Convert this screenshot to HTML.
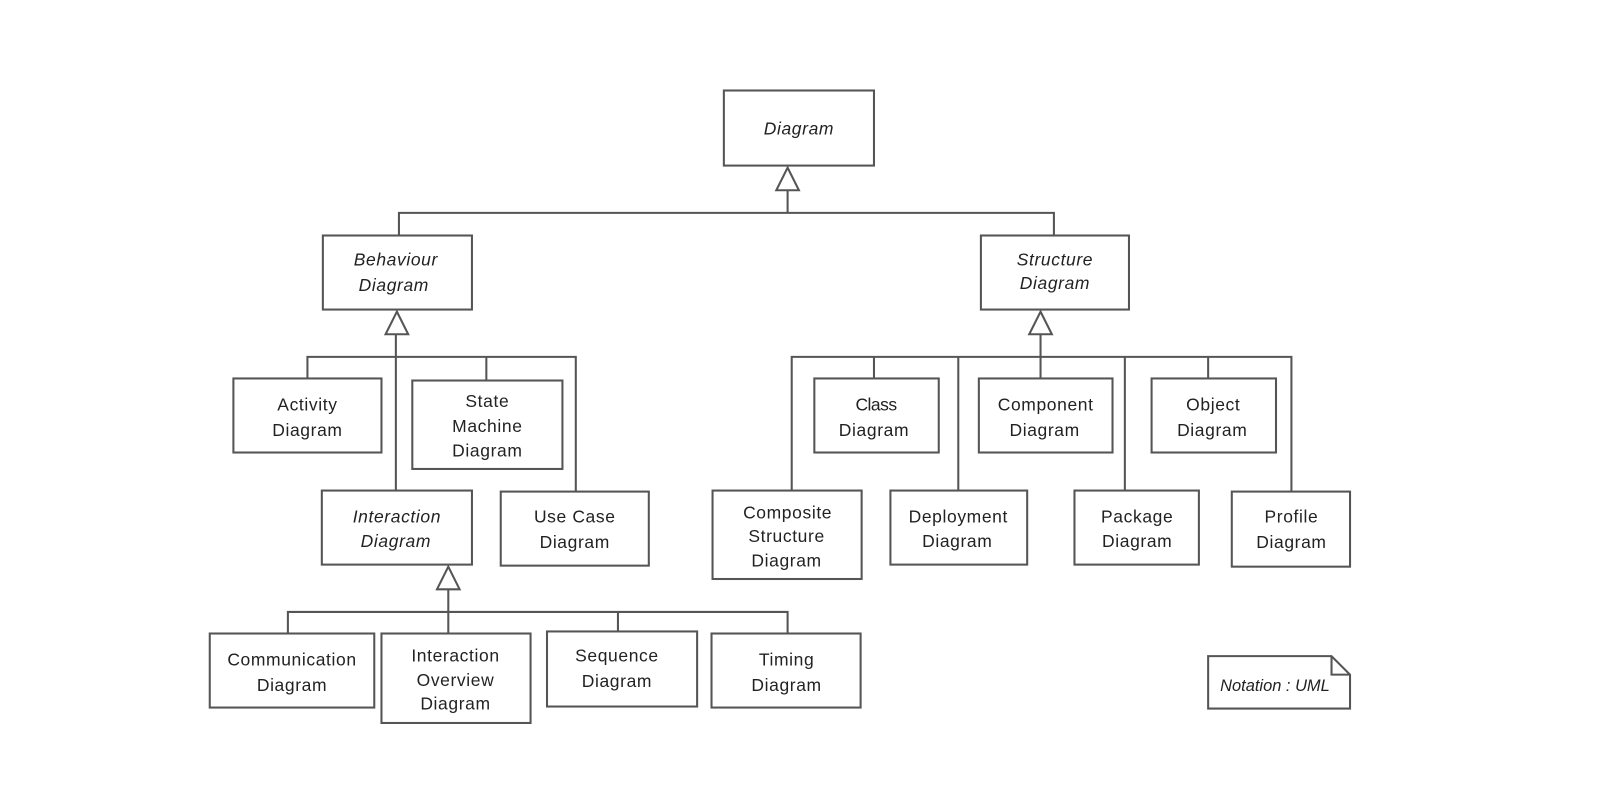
<!DOCTYPE html>
<html><head><meta charset="utf-8"><style>html,body{margin:0;padding:0;background:#fff}svg{display:block}</style></head><body>
<svg width="1604" height="796" viewBox="0 0 1560 774" preserveAspectRatio="none" xmlns="http://www.w3.org/2000/svg">
<g fill="#fff" stroke="#555" stroke-width="2">
<rect x="704" y="88" width="146" height="73"/>
<rect x="314" y="229" width="145" height="72"/>
<rect x="954" y="229" width="144" height="72"/>
<rect x="227" y="368" width="144" height="72"/>
<rect x="401" y="370" width="146" height="86"/>
<rect x="313" y="477" width="146" height="72"/>
<rect x="487" y="478" width="144" height="72"/>
<rect x="204" y="616" width="160" height="72"/>
<rect x="371" y="616" width="145" height="87"/>
<rect x="532" y="614" width="146" height="73"/>
<rect x="692" y="616" width="145" height="72"/>
<rect x="792" y="368" width="121" height="72"/>
<rect x="952" y="368" width="130" height="72"/>
<rect x="1120" y="368" width="121" height="72"/>
<rect x="693" y="477" width="145" height="86"/>
<rect x="866" y="477" width="133" height="72"/>
<rect x="1045" y="477" width="121" height="72"/>
<rect x="1198" y="478" width="115" height="73"/>
<path d="M1175 638 H1295 L1313 656 V689 H1175 Z M1295 638 V656 H1313"/>
</g>
<g fill="none" stroke="#555" stroke-width="2">
<path d="M766 185 V207 M388 229 V207 H1025 V229"/>
<path d="M385 325 V477 M299 368 V347 H560 V478 M473 347 V370"/>
<path d="M436 573 V616 M280 616 V595 H766 V616 M601 595 V614"/>
<path d="M1012 325 V368 M770 477 V347 H1256 V478 M850 347 V368 M932 347 V477 M1094 347 V477 M1175 347 V368"/>
</g>
<g fill="#fff" stroke="#555" stroke-width="2">
<path d="M766 163 L777 185 H755 Z"/>
<path d="M386 303 L397 325 H375 Z"/>
<path d="M436 551 L447 573 H425 Z"/>
<path d="M1012 303 L1023 325 H1001 Z"/>
</g>
<g font-family="Liberation Sans, sans-serif" font-size="17" fill="#222" text-anchor="middle" letter-spacing="0.6">
<g font-style="italic">
<text x="777" y="131">Diagram</text>
<text x="385" y="258">Behaviour</text><text x="383" y="283">Diagram</text>
<text x="1026" y="258">Structure</text><text x="1026" y="281">Diagram</text>
<text x="386" y="508">Interaction</text><text x="385" y="532">Diagram</text>
<text x="1240" y="672" font-size="16" letter-spacing="0">Notation : UML</text>
</g>
<text x="299" y="399">Activity</text><text x="299" y="424">Diagram</text>
<text x="474" y="396">State</text><text x="474" y="420">Machine</text><text x="474" y="444">Diagram</text>
<text x="559" y="508">Use Case</text><text x="559" y="533">Diagram</text>
<text x="284" y="647">Communication</text><text x="284" y="672">Diagram</text>
<text x="443" y="643">Interaction</text><text x="443" y="667">Overview</text><text x="443" y="690">Diagram</text>
<text x="600" y="643">Sequence</text><text x="600" y="668">Diagram</text>
<text x="765" y="647">Timing</text><text x="765" y="672">Diagram</text>
<text x="852" y="399" letter-spacing="-0.5">Class</text><text x="850" y="424">Diagram</text>
<text x="1017" y="399">Component</text><text x="1016" y="424">Diagram</text>
<text x="1180" y="399">Object</text><text x="1179" y="424">Diagram</text>
<text x="766" y="504">Composite</text><text x="765" y="527">Structure</text><text x="765" y="551">Diagram</text>
<text x="932" y="508">Deployment</text><text x="931" y="532">Diagram</text>
<text x="1106" y="508">Package</text><text x="1106" y="532">Diagram</text>
<text x="1256" y="508">Profile</text><text x="1256" y="533">Diagram</text>
</g>
</svg>
</body></html>
